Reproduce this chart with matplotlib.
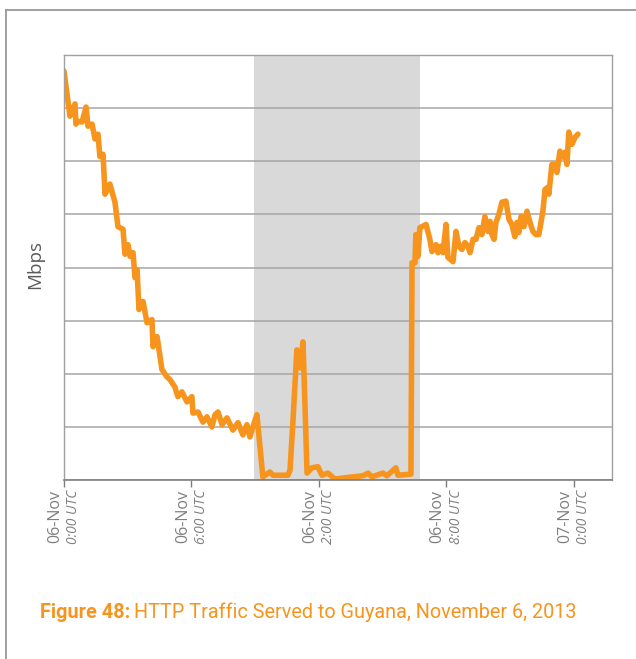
import matplotlib
matplotlib.use("Agg")
import matplotlib.pyplot as plt
from matplotlib.lines import Line2D

# hours since 06-Nov 0:00 UTC
hours = [0.00, 0.28, 0.52, 0.56, 0.66, 0.85, 1.04, 1.13, 1.32, 1.46, 1.60, 1.69, 1.84, 1.93,
         2.16, 2.40, 2.54, 2.78, 2.87, 3.01, 3.11, 3.25, 3.34, 3.44, 3.53, 3.72, 3.91, 4.14,
         4.19, 4.38, 4.61, 4.85, 4.99, 5.22, 5.36, 5.55, 5.79, 6.02, 6.07, 6.31, 6.54, 6.73,
         6.96, 7.11, 7.25, 7.44, 7.67, 7.95, 8.19, 8.42, 8.61, 8.75, 8.89, 9.08, 9.36, 9.69,
         9.84, 10.54, 10.64, 10.78, 10.96, 11.11, 11.25, 11.44, 11.67, 11.95, 12.14, 12.42,
         12.75, 14.07, 14.31, 14.49, 15.01, 15.20, 15.62, 15.72, 16.33, 16.38, 16.52, 16.56,
         16.66, 16.75, 17.04, 17.22, 17.32, 17.51, 17.60, 17.74, 17.84, 17.98, 18.07, 18.31,
         18.45, 18.59, 18.73, 18.87, 19.01, 19.11, 19.25, 19.39, 19.53, 19.67, 19.81, 19.95,
         20.05, 20.14, 20.24, 20.33, 20.47, 20.61, 20.80, 20.94, 21.08, 21.22, 21.32, 21.41,
         21.51, 21.65, 21.79, 21.93, 22.07, 22.21, 22.35, 22.45, 22.54, 22.64, 22.78, 22.82,
         22.96, 23.11, 23.20, 23.34, 23.48, 23.58, 23.67, 23.76, 23.91, 24.05, 24.19]

# traffic, in grid units (the chart shows no y values)
mbps = [7.70, 6.85, 7.08, 6.70, 6.75, 6.74, 7.02, 6.66, 6.70, 6.42, 6.51, 6.09, 6.13, 5.38,
        5.57, 5.23, 4.77, 4.72, 4.25, 4.43, 4.21, 4.28, 3.81, 3.96, 3.21, 3.36, 2.96, 3.02,
        2.51, 2.70, 2.08, 1.94, 1.89, 1.75, 1.57, 1.66, 1.47, 1.57, 1.26, 1.28, 1.09, 1.19,
        1.00, 1.23, 1.28, 1.04, 1.17, 0.94, 1.08, 0.85, 1.04, 0.81, 1.00, 1.23, 0.06, 0.15,
        0.09, 0.09, 0.19, 1.13, 2.45, 2.11, 2.60, 0.13, 0.23, 0.25, 0.09, 0.13,
        0.02, 0.08, 0.13, 0.06, 0.13, 0.08, 0.23, 0.09, 0.11, 4.09, 4.09, 4.62,
        4.21, 4.75, 4.81, 4.53, 4.30, 4.43, 4.28, 4.40, 4.28, 4.81, 4.19, 4.11,
        4.68, 4.40, 4.34, 4.47, 4.40, 4.28, 4.53, 4.53, 4.75, 4.62, 4.96, 4.68,
        4.87, 4.62, 4.53, 4.85, 5.00, 5.23, 5.25, 4.91, 4.81, 4.58, 4.85, 4.66,
        4.96, 4.77, 5.06, 4.85, 4.68, 4.62, 4.62, 4.85, 5.06, 5.47, 5.51, 5.38,
        5.94, 5.94, 5.79, 6.19, 6.08, 6.17, 5.94, 6.55, 6.32, 6.45, 6.51]

tick_hours = [0, 6, 12, 18, 24]
tick_dates = ['06-Nov', '06-Nov', '06-Nov', '06-Nov', '07-Nov']
tick_times = ['0:00 UTC', '6:00 UTC', '2:00 UTC', '8:00 UTC', '0:00 UTC']
outage = (8.94, 16.75)

orange = '#f7941d'
gray = '#7f7f7f'
sans = ['Open Sans', 'DejaVu Sans']

fig = plt.figure(figsize=(6.36, 6.59), dpi=100)
ax = fig.add_axes([0.1006, 0.2716, 0.8616, 0.6449])

ax.axvspan(outage[0], outage[1], color='#d9d9d9', lw=0)
ax.plot(hours, mbps, color=orange, lw=4.0, solid_joinstyle='round', solid_capstyle='round')

ax.set_xlim(0, 25.79)
ax.set_ylim(0, 8)
ax.set_yticks(range(9))
ax.set_yticklabels([])
ax.tick_params(axis='y', length=0)
ax.grid(axis='y', color='#a6a6a6', lw=1.1)
for s in ['left', 'top', 'right']:
    ax.spines[s].set_color('#a0a0a0')
    ax.spines[s].set_linewidth(1.0)
ax.spines['bottom'].set_color('#808080')
ax.spines['bottom'].set_linewidth(1.2)

ax.set_xticks(tick_hours)
ax.set_xticklabels([])
ax.tick_params(axis='x', length=5, color=gray, width=1)

trans = ax.get_xaxis_transform()
for h, d, t in zip(tick_hours, tick_dates, tick_times):
    ax.annotate(d, xy=(h, 0), xycoords=trans, xytext=(-0.5, -7), textcoords='offset points',
                rotation=90, rotation_mode='anchor', ha='right', va='bottom',
                fontsize=11.5, color=gray, family=sans)
    ax.annotate(t, xy=(h, 0), xycoords=trans, xytext=(1.5, -7), textcoords='offset points',
                rotation=90, rotation_mode='anchor', ha='right', va='top',
                fontsize=10, color=gray, style='italic', family=sans)

fig.text(0.055, 0.598, 'Mbps', rotation=90, ha='center', va='center', fontsize=13.5,
         color='#595959', family=sans)

cap_font = ['Liberation Sans Narrow', 'Roboto', 'DejaVu Sans']
cap = fig.text(40 / 636, 1 - 618 / 659, 'Figure 48:', fontsize=14.3, fontweight='bold',
               color=orange, family=cap_font, ha='left', va='baseline')
ax.annotate('HTTP Traffic Served to Guyana, November 6, 2013', xy=(1, 0), xycoords=cap,
            xytext=(3, 0), textcoords='offset points', fontsize=14.3, color=orange,
            family=cap_font, ha='left', va='bottom', annotation_clip=False)

# outer frame of the page box
fig.add_artist(Line2D([6 / 636, 6 / 636], [0, 1 - 10 / 659], transform=fig.transFigure,
                      color='#999999', lw=1.3))
fig.add_artist(Line2D([6 / 636, 1], [1 - 10 / 659, 1 - 10 / 659], transform=fig.transFigure,
                      color='#999999', lw=1.3))

fig.savefig('out.png', dpi=100)
